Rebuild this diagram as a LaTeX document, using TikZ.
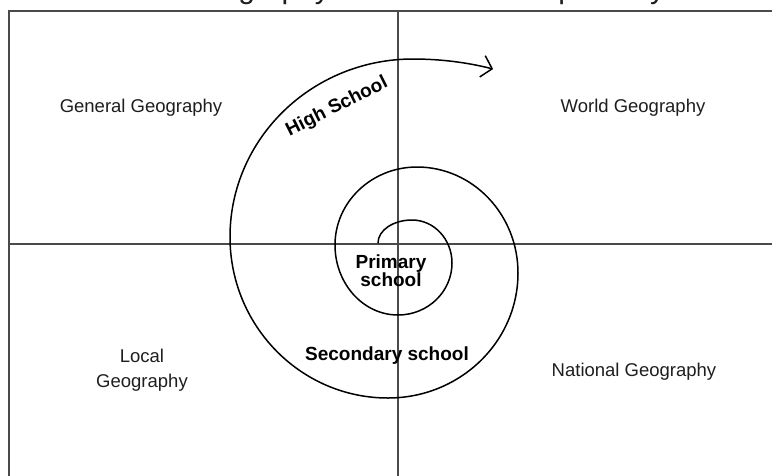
\documentclass[tikz,border=0pt]{standalone}
\usepackage{fontspec}
\setmainfont{Liberation Sans}
\usetikzlibrary{arrows.meta}
\definecolor{ink}{HTML}{1E1E1E}
\definecolor{rule}{HTML}{4A4A4A}
\begin{document}
\begin{tikzpicture}[x=1pt,y=-1pt,
  quadlabel/.style={font=\fontsize{18.5}{25}\selectfont, text=ink, align=center, inner sep=0pt},
  stagelabel/.style={font=\fontsize{19}{18}\selectfont\bfseries, text=black, align=center, inner sep=0pt},
  divider/.style={draw=rule, line width=1.1pt},
  spiral/.style={draw=black, line width=1.5pt, line cap=round,
    -{Straight Barb[length=10pt,width=22pt]}}]
\useasboundingbox (0,0) rectangle (772,475);

% heading, running off the top edge
\node[anchor=base west, font=\fontsize{30}{30}\selectfont, text=ink, inner sep=0pt]
  (title) at (40,-2) {Thematic\hspace{0.6em}Geography is researched separately};

% frame and quadrant dividers
\coordinate (frameTL) at (9,11);
\coordinate (frameBL) at (9,480);
\coordinate (frameTR) at (780,11);
\coordinate (axisTop) at (398,11);
\coordinate (axisBottom) at (398,480);
\coordinate (axisLeft) at (9,244);
\coordinate (axisRight) at (780,244);
\draw[divider] (frameBL) -- (frameTL) -- (frameTR);
\draw[divider] (axisTop) -- (axisBottom);
\draw[divider] (axisLeft) -- (axisRight);

% the spiral, built from quarter ellipses
\coordinate (spiralStart) at (378,243);
\draw[spiral] (spiralStart)
  arc[start angle=180, end angle=270, x radius=34,  y radius=23]
  arc[start angle=-90, end angle=0,   x radius=40,  y radius=43]
  arc[start angle=0,   end angle=90,  x radius=54,  y radius=52]
  arc[start angle=90,  end angle=180, x radius=63,  y radius=70]
  arc[start angle=180, end angle=270, x radius=82,  y radius=78]
  arc[start angle=-90, end angle=0,   x radius=101, y radius=106]
  arc[start angle=0,   end angle=90,  x radius=130, y radius=125]
  arc[start angle=90,  end angle=180, x radius=158, y radius=161]
  arc[start angle=180, end angle=270, x radius=183, y radius=178]
  arc[start angle=-90, end angle=-71.3, x radius=250, y radius=190];

% quadrant labels
\node[quadlabel] (general) at (141,108) {General Geography};
\node[quadlabel] (world) at (633,108) {World Geography};
\node[quadlabel] (local) at (142,370) {Local\\Geography};
\node[quadlabel] (national) at (634,372) {National Geography};

% stage labels
\node[stagelabel, rotate=26.6] (high) at (337,107) {High School};
\node[stagelabel] (primary) at (391,271) {Primary\\school};
\node[stagelabel] (secondary) at (387,356) {Secondary school};
\end{tikzpicture}
\end{document}
